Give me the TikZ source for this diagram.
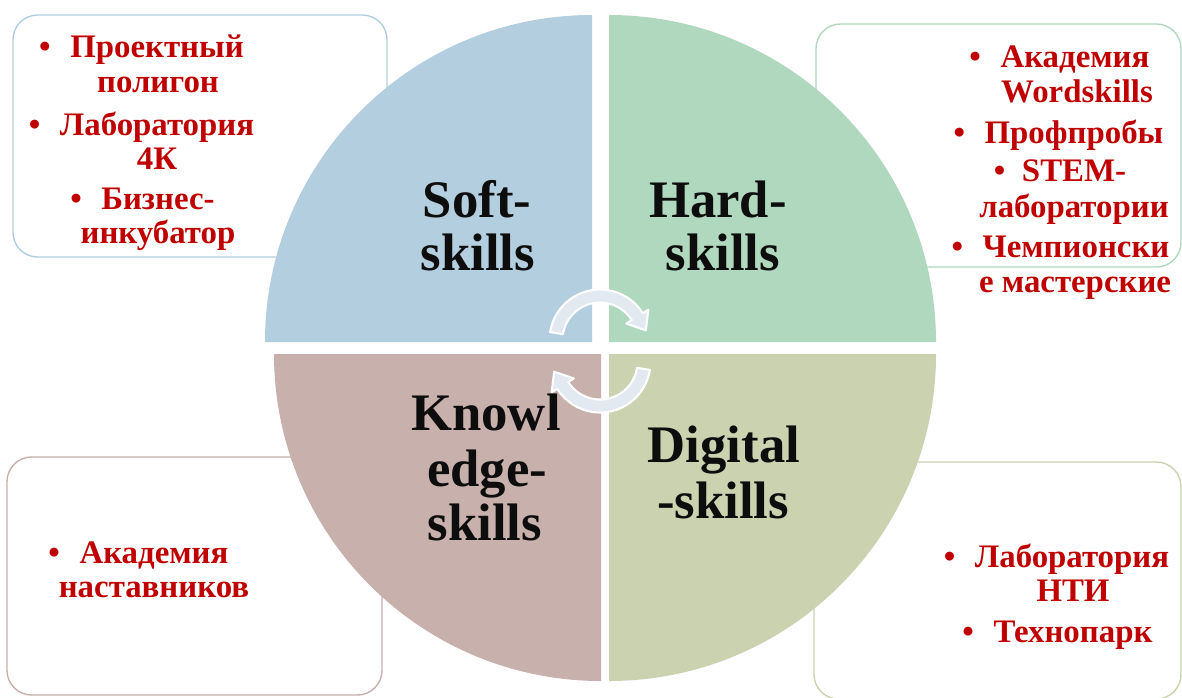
\documentclass[tikz,border=0pt]{standalone}
\usepackage{fontspec}
\setmainfont{Liberation Serif}
\usetikzlibrary{calc}
\definecolor{qTL}{RGB}{179,206,222}
\definecolor{qTR}{RGB}{176,216,190}
\definecolor{qBL}{RGB}{200,176,172}
\definecolor{qBR}{RGB}{202,210,176}
\definecolor{dred}{RGB}{192,0,0}
\definecolor{arrowfill}{RGB}{226,233,240}
\newcommand{\cyclearrowpath}{%
  ($(C)+(189:50.5)$) arc[start angle=189,end angle=328,radius=50.5]
  -- ($(C)+(328:57)$) -- ($(C)+(45.8,-9.7)$) -- ($(C)+(328:31)$)
  -- ($(C)+(328:37.5)$) arc[start angle=328,end angle=189,radius=37.5] -- cycle}
\begin{document}
\begin{tikzpicture}[x=0.02cm,y=-0.02cm,
  box/.style={draw, line width=0.8pt, fill=white, rounded corners=14pt},
  qtext/.style={font=\fontsize{30}{31}\selectfont\bfseries, text=black!95, inner sep=0pt, anchor=base},
  itm/.style={font=\fontsize{18.7}{20}\selectfont\bfseries, text=dred, inner sep=0pt, anchor=base},
  cyc/.style={fill=arrowfill, draw=white, line width=1.2pt, line join=round}]
\useasboundingbox (0,0) rectangle (1182,697);
\clip (0,0) rectangle (1182,697);
\fill[white] (0,0) rectangle (1182,697);
% corner boxes
\draw[box, draw=qTL] (13,15) rectangle (387,257);
\draw[box, draw=qTR] (816,24) rectangle (1181,267);
\draw[box, draw=qBL] (7,457) rectangle (382,695);
\draw[box, draw=qBR] (814,462) rectangle (1181,699);
% quadrants
\fill[qTL] (592,342) -- (265,342) arc[start angle=180,end angle=270,radius=327] -- cycle;
\fill[qTR] (609,342) -- (609,15) arc[start angle=270,end angle=360,radius=327] -- cycle;
\fill[qBL] (601,354) -- (601,681) arc[start angle=90,end angle=180,radius=327] -- cycle;
\fill[qBR] (609,354) -- (936,354) arc[start angle=0,end angle=90,radius=327] -- cycle;
% cycle arrows
\coordinate (C) at (600,340);
\path[cyc] \cyclearrowpath;
\begin{scope}[rotate around={180:(600,351)}]
\coordinate (C) at (600,340);
\path[cyc] \cyclearrowpath;
\end{scope}
% quadrant labels
\node[qtext] (s1) at (477,217) {Soft-};
\node[qtext] (s2) at (478,270) {skills};
\node[qtext] (h1) at (718,217) {Hard-};
\node[qtext] (h2) at (723,270) {skills};
\node[qtext] (k1) at (486,430) {Knowl};
\node[qtext] (k2) at (487,486) {edge-};
\node[qtext] (k3) at (485,540) {skills};
\node[qtext] (d1) at (724,462) {Digital};
\node[qtext] (d2) at (723,518) {-skills};
% top-left items
\node[itm] (a1) at (157,57) {Проектный};
\node[itm] (a2) at (158,92) {полигон};
\node[itm] (a3) at (157,135) {Лаборатория};
\node[itm] (a4) at (157,169) {4К};
\node[itm] (a5) at (158,209) {Бизнес-};
\node[itm] (a6) at (158,243) {инкубатор};
\node[itm] (ab1) at ($(a1.base west)+(-25,0)$) {•};
\node[itm] (ab2) at ($(a3.base west)+(-25,0)$) {•};
\node[itm] (ab3) at ($(a5.base west)+(-25,0)$) {•};
% top-right items
\node[itm] (b1) at (1075,67) {Академия};
\node[itm] (b2) at (1077,102) {Wordskills};
\node[itm] (b3) at (1074,143) {Профпробы};
\node[itm] (b4) at (1074,181) {STEM-};
\node[itm] (b5) at (1074,217) {лаборатории};
\node[itm] (b6) at (1076,257) {Чемпионски};
\node[itm] (b7) at (1075,292) {е мастерские};
\node[itm] (bb1) at ($(b1.base west)+(-25,0)$) {•};
\node[itm] (bb2) at ($(b3.base west)+(-25,0)$) {•};
\node[itm] (bb3) at ($(b4.base west)+(-22,0)$) {•};
\node[itm] (bb4) at ($(b6.base west)+(-25,0)$) {•};
% bottom-left items
\node[itm] (c1) at (154,563) {Академия};
\node[itm] (c2) at (154,597) {наставников};
\node[itm] (cb1) at ($(c1.base west)+(-25,0)$) {•};
% bottom-right items
\node[itm] (e1) at (1072,567) {Лаборатория};
\node[itm] (e2) at (1073,601) {НТИ};
\node[itm] (e3) at (1073,642) {Технопарк};
\node[itm] (eb1) at ($(e1.base west)+(-25,0)$) {•};
\node[itm] (eb2) at ($(e3.base west)+(-25,0)$) {•};
\end{tikzpicture}
\end{document}
